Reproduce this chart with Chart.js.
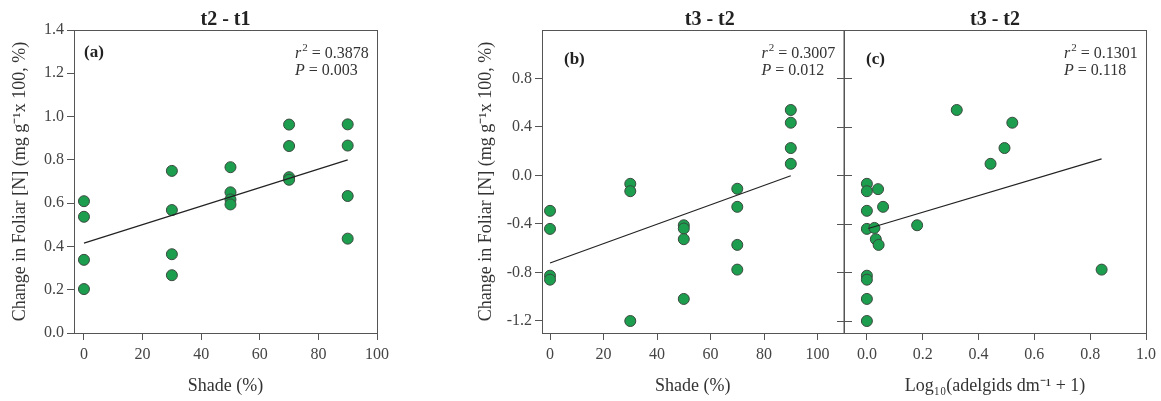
<!DOCTYPE html>
<html>
<head>
<meta charset="utf-8">
<script src="https://cdn.jsdelivr.net/npm/chart.js@4/dist/chart.umd.min.js"></script>
<style>
  body { margin: 0; background: #fff; width: 1161px; height: 401px; position: relative; overflow: hidden; }
  canvas { position: absolute; top: 0; }
</style>
</head>
<body>
<canvas id="chart-a" width="400" height="401" style="left:0px"></canvas>
<canvas id="chart-b" width="384" height="401" style="left:466px"></canvas>
<canvas id="chart-c" width="331" height="401" style="left:830px"></canvas>
<script>
// panel (a): t2 - t1 against shade
const shadeA = [0, 0, 0, 0, 30, 30, 30, 30, 50, 50, 50, 50, 70, 70, 70, 70, 90, 90, 90, 90];
const foliarA = [0.609, 0.537, 0.338, 0.203, 0.749, 0.568, 0.364, 0.267, 0.766, 0.650, 0.617, 0.594,
                 0.963, 0.864, 0.720, 0.708, 0.964, 0.866, 0.633, 0.436];
const fitAx = [0, 90];
const fitAy = [0.415, 0.800];

// panel (b): t3 - t2 against shade
const shadeB = [0, 0, 0, 0, 30, 30, 30, 50, 50, 50, 50, 70, 70, 70, 70, 90, 90, 90, 90];
const foliarB = [-0.292, -0.441, -0.827, -0.860, -0.069, -0.130, -1.201, -0.411, -0.438, -0.526, -1.019,
                 -0.110, -0.259, -0.573, -0.777, 0.540, 0.435, 0.226, 0.096];
const fitBx = [0, 90];
const fitBy = [-0.722, -0.003];

// panel (c): t3 - t2 against adelgid density
const adelgidC = [0, 0, 0.040, 0.058, 0, 0, 0.027, 0.032, 0.042, 0.180, 0, 0, 0, 0,
                  0.322, 0.521, 0.493, 0.443, 0.841];
const foliarC = [-0.069, -0.130, -0.113, -0.259, -0.292, -0.441, -0.433, -0.526, -0.573, -0.411,
                 -0.827, -0.860, -1.019, -1.201, 0.540, 0.435, 0.226, 0.096, -0.777];
const fitCx = [0.005, 0.841];
const fitCy = [-0.438, 0.137];

// tick labels
const shadeTicks = [0, 20, 40, 60, 80, 100];
const adelgidTicks = [0, 0.2, 0.4, 0.6, 0.8, 1.0];
const foliarTicksA = [0, 0.2, 0.4, 0.6, 0.8, 1.0, 1.2, 1.4];
const foliarTicksBC = [-1.2, -0.8, -0.4, 0, 0.4, 0.8];

const serif = '"Liberation Serif", "Times New Roman", serif';
const yTitle = 'Change in Foliar [N] (mg g\u207B\u00B9x 100, %)';

const panelPlugin = {
  id: 'panel',
  afterDraw(chart, args, opts) {
    const { ctx, chartArea: a } = chart;
    ctx.save();
    ctx.strokeStyle = '#555';
    ctx.lineWidth = 1;
    ctx.strokeRect(a.left + 0.5, a.top + 0.5, a.right - a.left, a.bottom - a.top);

    if (opts.innerTicks) {
      // shared axis between (b) and (c): ticks cross the line
      const ys = chart.scales.y;
      ys.ticks.forEach(t => {
        const py = Math.round(ys.getPixelForValue(t.value)) + 0.5;
        ctx.beginPath();
        ctx.moveTo(a.left - 7, py);
        ctx.lineTo(a.left + 8, py);
        ctx.stroke();
      });
    }

    ctx.fillStyle = '#222';
    ctx.textBaseline = 'middle';
    ctx.textAlign = 'center';
    ctx.font = 'bold 20px ' + serif;
    ctx.fillText(opts.title, (a.left + a.right) / 2 + opts.titleShift, 20);

    ctx.textAlign = 'left';
    ctx.font = 'bold 17px ' + serif;
    ctx.fillText(opts.tag, a.left + opts.tagDx, opts.tagY);

    // r^2 and P lines
    ctx.fillStyle = '#333';
    let x = a.right - 82;
    ctx.font = 'italic 16px ' + serif;
    ctx.fillText('r', x, 54);
    x += ctx.measureText('r').width + 1;
    ctx.font = '11px ' + serif;
    ctx.fillText('2', x, 48);
    x += ctx.measureText('2').width;
    ctx.font = '16px ' + serif;
    ctx.fillText(' = ' + opts.r2, x, 54);

    x = a.right - 82;
    ctx.font = 'italic 16px ' + serif;
    ctx.fillText('P', x, 71);
    x += ctx.measureText('P').width;
    ctx.font = '16px ' + serif;
    ctx.fillText(' = ' + opts.p, x, 71);
    ctx.restore();
  }
};

function makePanel(id, p) {
  return new Chart(document.getElementById(id), {
    type: 'scatter',
    plugins: [panelPlugin],
    data: {
      datasets: [
        {
          data: p.fitX.map((v, i) => ({ x: v, y: p.fitY[i] })),
          showLine: true,
          borderColor: '#222',
          borderWidth: 1.2,
          pointRadius: 0,
          order: 0
        },
        {
          data: p.xs.map((v, i) => ({ x: v, y: p.ys[i] })),
          backgroundColor: '#1c9e4e',
          borderColor: '#3a4a3f',
          borderWidth: 1,
          pointRadius: 5.5,
          order: 1,
          clip: false
        }
      ]
    },
    options: {
      responsive: false,
      animation: false,
      devicePixelRatio: 1,
      layout: { padding: { top: 30, right: p.padRight, bottom: 0, left: 0 } },
      plugins: {
        legend: { display: false },
        tooltip: { enabled: false },
        panel: { title: p.title, titleShift: p.titleShift, tag: p.tag, tagDx: p.tagDx, tagY: p.tagY,
                 r2: p.r2, p: p.pVal, innerTicks: p.innerTicks }
      },
      scales: {
        x: {
          type: 'linear',
          min: p.xMin, max: p.xMax,
          afterBuildTicks: s => { s.ticks = p.xTicks.map(v => ({ value: v })); },
          afterFit: s => { s.height = 68; },
          grid: { drawOnChartArea: false, drawTicks: true, tickLength: 7, color: '#555' },
          border: { display: false },
          ticks: { color: '#444', font: { family: serif, size: 16 }, padding: 5, maxRotation: 0,
                   callback: v => v.toFixed(p.xDigits) },
          title: { display: true, text: p.xTitle, color: '#333', font: { family: serif, size: 18 },
                   padding: { top: 0, bottom: 4 } }
        },
        y: {
          type: 'linear',
          min: p.yMin, max: p.yMax,
          afterBuildTicks: s => { s.ticks = p.yTicks.map(v => ({ value: v })); },
          afterFit: s => { s.width = p.yWidth; },
          grid: { drawOnChartArea: false, drawTicks: !p.innerTicks, tickLength: 7, color: '#555' },
          border: { display: false },
          ticks: { color: '#444', font: { family: serif, size: 16 }, padding: 3,
                   callback: v => p.yLabels ? v.toFixed(1) : '' },
          title: { display: p.yLabels, text: yTitle, color: '#333', font: { family: serif, size: 18 },
                   padding: { top: 9, bottom: 0 } }
        }
      }
    }
  });
}

makePanel('chart-a', {
  xs: shadeA, ys: foliarA, fitX: fitAx, fitY: fitAy,
  xMin: -3.4, xMax: 100, xTicks: shadeTicks, xDigits: 0, xTitle: 'Shade (%)',
  yMin: 0, yMax: 1.4, yTicks: foliarTicksA, yLabels: true, yWidth: 74, padRight: 23,
  title: 't2 - t1', titleShift: 0, tag: '(a)', tagDx: 10, tagY: 53,
  r2: '0.3878', pVal: '0.003', innerTicks: false
});

makePanel('chart-b', {
  xs: shadeB, ys: foliarB, fitX: fitBx, fitY: fitBy,
  xMin: -3, xMax: 109.7, xTicks: shadeTicks, xDigits: 0, xTitle: 'Shade (%)',
  yMin: -1.3, yMax: 1.2, yTicks: foliarTicksBC, yLabels: true, yWidth: 76, padRight: 6,
  title: 't3 - t2', titleShift: 17, tag: '(b)', tagDx: 22, tagY: 60,
  r2: '0.3007', pVal: '0.012', innerTicks: false
});

makePanel('chart-c', {
  xs: adelgidC, ys: foliarC, fitX: fitCx, fitY: fitCy,
  xMin: -0.082, xMax: 1.0, xTicks: adelgidTicks, xDigits: 1, xTitle: 'Log\u2081\u2080(adelgids dm\u207B\u00B9 + 1)',
  yMin: -1.3, yMax: 1.2, yTicks: foliarTicksBC, yLabels: false, yWidth: 14, padRight: 13,
  title: 't3 - t2', titleShift: 0, tag: '(c)', tagDx: 22, tagY: 60,
  r2: '0.1301', pVal: '0.118', innerTicks: true
});
</script>
</body>
</html>
